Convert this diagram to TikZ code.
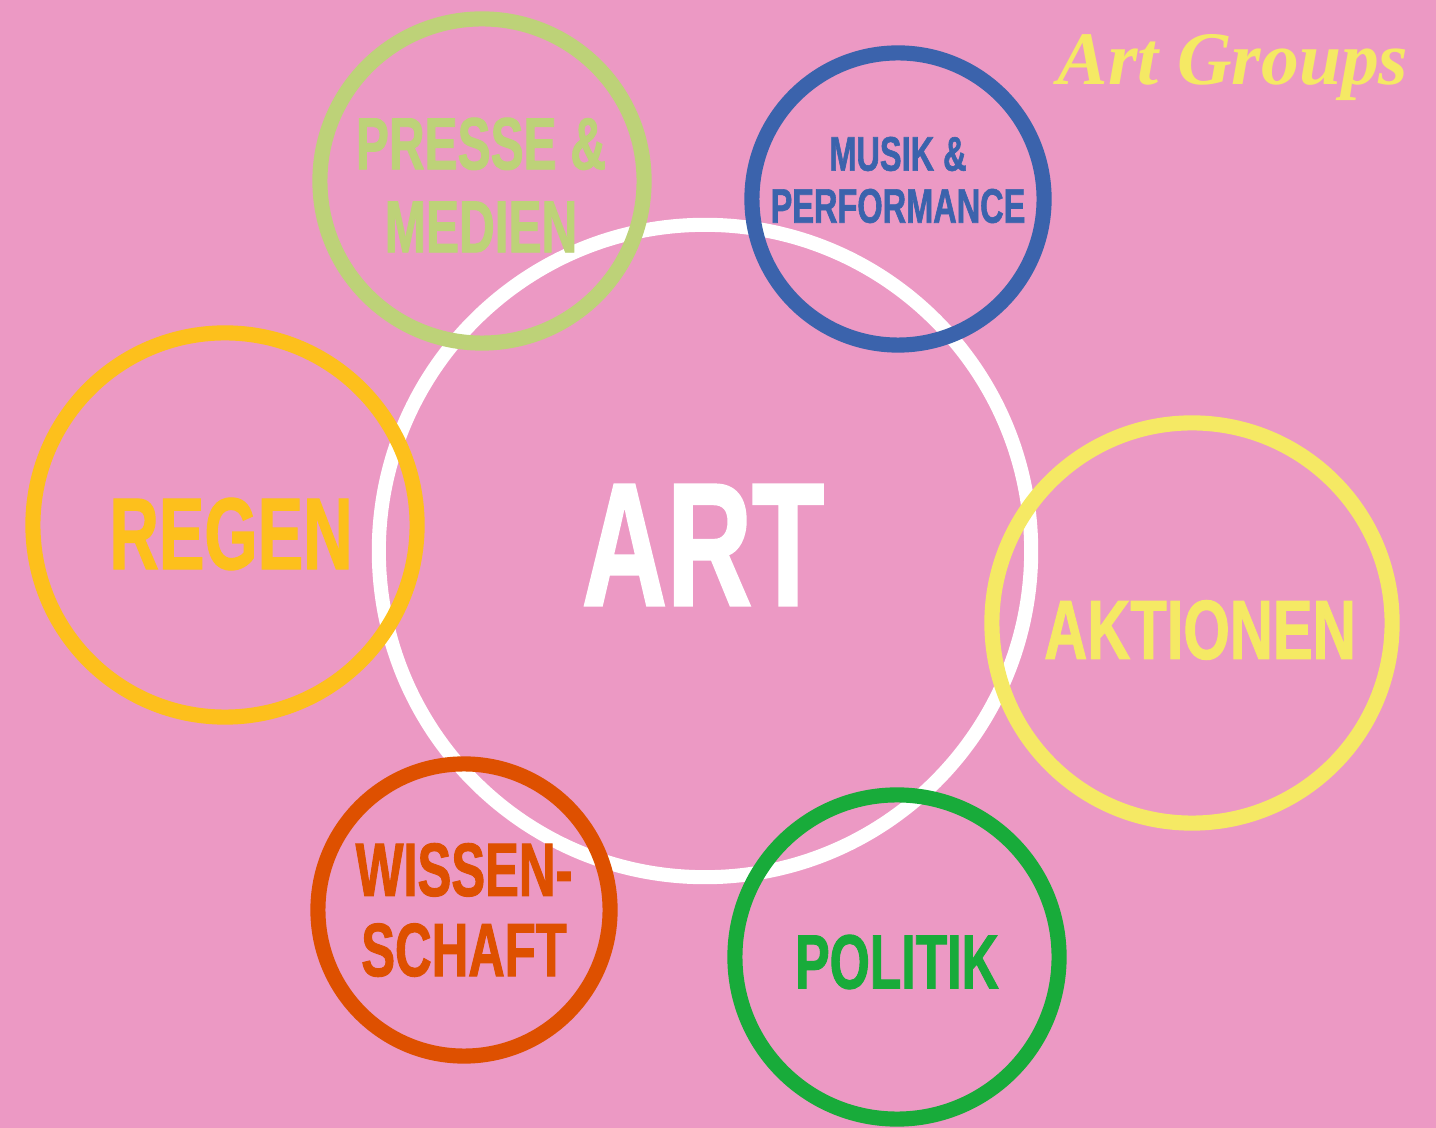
\documentclass[tikz,border=0pt]{standalone}
\usepackage{fontspec}
\newfontfamily\grpfont[FakeStretch=0.67,FakeBold=1.2]{Liberation Sans}
\newfontfamily\grpwide[FakeStretch=0.71,FakeBold=1.2]{Liberation Sans}
\newfontfamily\titlefont{Liberation Serif}
\definecolor{bgpink}{RGB}{236,153,196}
\definecolor{presse}{RGB}{189,210,120}
\definecolor{musik}{RGB}{59,99,172}
\definecolor{regen}{RGB}{253,192,28}
\definecolor{aktion}{RGB}{245,233,100}
\definecolor{wissen}{RGB}{222,80,0}
\definecolor{politik}{RGB}{24,171,58}
\newcommand{\grp}[2]{\fontsize{#1}{#2}\grpfont\bfseries}

\begin{document}
\begin{tikzpicture}
    [
        x=0.01cm, y=-0.01cm,
        ring/.style = {draw, shape=circle, inner sep=0pt, line width=4.3pt},
        artring/.style = {ring, draw=white, line width=4pt},
        grptext/.style = {inner sep=0pt, align=center},
    ]

    \fill[bgpink] (0,0) rectangle (1436,1128);
    \useasboundingbox (0,0) rectangle (1436,1128);

    % rings
    \node[artring, minimum size=6.52cm] (art) at (705,551) {};
    \node[ring, draw=presse, minimum size=3.24cm] (presse) at (482,181) {};
    \node[ring, draw=musik, minimum size=2.92cm] (musik) at (898,199) {};
    \node[ring, draw=regen, minimum size=3.84cm] (regen) at (225,525) {};
    \node[ring, draw=aktion, minimum size=4cm] (aktion) at (1192,623) {};
    \node[ring, draw=wissen, minimum size=2.92cm] (wissen) at (464,910) {};
    \node[ring, draw=politik, minimum size=3.24cm] (politik) at (897,957) {};

    % labels
    \node[grptext, text=white, font=\grp{50pt}{51pt}] (art-txt) at (703,545) {ART};
    \node[grptext, text=presse, font=\grp{21pt}{23.6pt}] (presse-txt) at (481,185) {PRESSE \&\\MEDIEN};
    \node[grptext, text=musik, font=\grp{13.8pt}{14.8pt}] (musik-txt) at (898,180) {MUSIK \&\\PERFORMANCE};
    \node[grptext, text=regen, font=\grp{29pt}{30pt}] (regen-txt) at (231,534) {REGEN};
    \node[grptext, text=aktion, font=\fontsize{23.9pt}{25pt}\grpwide\bfseries] (aktion-txt) at (1200,630) {AKTIONEN};
    \node[grptext, text=wissen, font=\grp{21.5pt}{22.8pt}] (wissen-txt) at (464,910) {WISSEN-\\SCHAFT};
    \node[grptext, text=politik, font=\grp{21.9pt}{23pt}] (politik-txt) at (897,962) {POLITIK};

    \node[text=aktion, anchor=base, font=\fontsize{21.5pt}{23pt}\titlefont\bfseries\itshape]
        (title) at (1233,85) {Art Groups};
\end{tikzpicture}
\end{document}
